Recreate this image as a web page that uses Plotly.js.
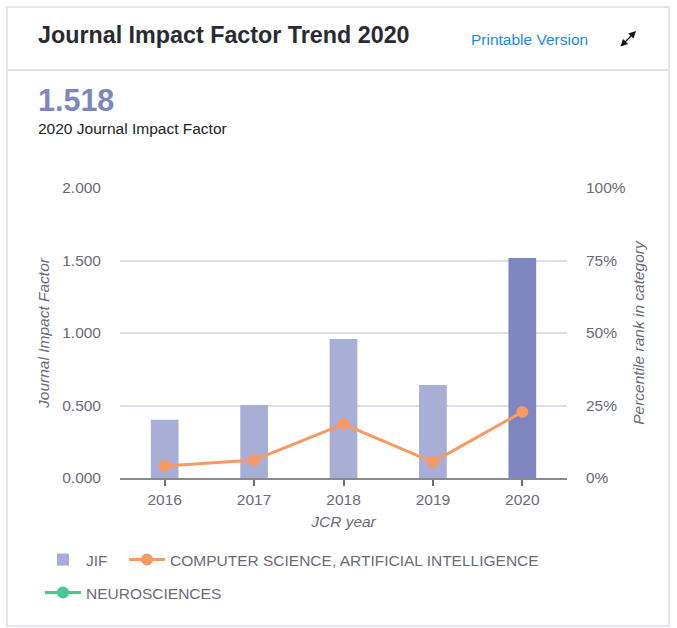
<!DOCTYPE html>
<html>
<head>
<meta charset="utf-8">
<script src="https://cdn.plot.ly/plotly-3.0.1.min.js"></script>
<style>
  html, body { margin: 0; padding: 0; background: #ffffff; }
  #chart { width: 677px; height: 628px; }
</style>
</head>
<body>
<div id="chart"></div>
<script>
// ---- data ----
const years = ['2016', '2017', '2018', '2019', '2020'];
const jif = [0.401, 0.503, 0.959, 0.641, 1.518];
const csaiPercentile = [4.1, 6.2, 18.6, 5.5, 22.8];
const neuroPercentile = [null, null, null, null, null];
const jifColors = ['#a9aed6', '#a9aed6', '#a9aed6', '#a9aed6', '#7f86bf'];
const jifTicks = [0, 0.5, 1, 1.5, 2];
const pctTicks = [0, 25, 50, 75, 100];
const pctLabels = ['0%', '25%', '50%', '75%', '100%'];

// ---- geometry helpers (plot area in pixels) ----
const L = 120, R = 567, T = 188, B = 478;
const xp = px => (px - L) / (R - L);
const yp = py => (B - py) / (B - T);

const font = 'Liberation Sans, Arial, Helvetica, sans-serif';
const grey = '#6b6b78';
const fs = 15.5;

const traces = [
  {
    type: 'bar', name: 'JIF', x: years, y: jif,
    marker: { color: jifColors },
    width: 0.31, yaxis: 'y', legend: 'legend'
  },
  {
    type: 'scatter', mode: 'lines+markers',
    name: 'COMPUTER SCIENCE, ARTIFICIAL INTELLIGENCE',
    x: years, y: csaiPercentile, yaxis: 'y2', legend: 'legend3',
    line: { color: '#f79a62', width: 3 },
    marker: { color: '#f79a62', size: 12 }
  },
  {
    type: 'scatter', mode: 'lines+markers', name: 'NEUROSCIENCES',
    x: years, y: neuroPercentile, yaxis: 'y2', legend: 'legend2',
    line: { color: '#45c990', width: 3 },
    marker: { color: '#45c990', size: 12 }
  }
];

const legendCommon = {
  orientation: 'h', xanchor: 'left', yanchor: 'middle',
  font: { family: font, size: fs, color: grey },
  traceorder: 'normal', itemwidth: 36,
  bgcolor: 'rgba(0,0,0,0)', borderwidth: 0
};

const layout = {
  width: 677, height: 628,
  margin: { l: L, r: 677 - R, t: T, b: 628 - B, pad: 0 },
  paper_bgcolor: '#ffffff', plot_bgcolor: 'rgba(0,0,0,0)',
  font: { family: font, size: fs, color: grey },
  showlegend: true,
  legend: Object.assign({}, legendCommon, { x: xp(40), y: yp(560) }),
  legend3: Object.assign({}, legendCommon, { x: xp(124), y: yp(560) }),
  legend2: Object.assign({}, legendCommon, { x: xp(40), y: yp(593) }),
  xaxis: {
    type: 'category', range: [-0.5, 4.5], automargin: false,
    showline: true, linecolor: '#8a8a8a', linewidth: 2,
    ticks: 'outside', ticklen: 6, tickwidth: 2, tickcolor: '#6e6e6e',
    tickfont: { family: font, size: fs, color: grey },
    showgrid: false, zeroline: false, fixedrange: true,
    title: { text: 'JCR year', font: { family: font, size: fs, color: grey, style: 'italic' }, standoff: 10 }
  },
  yaxis: {
    range: [0, 2], tickvals: jifTicks, automargin: false,
    tickformat: '.3f', showgrid: true, gridcolor: '#dcdcea', gridwidth: 2,
    zeroline: false, showline: false, ticks: '',
    ticklabelstandoff: 18,
    tickfont: { family: font, size: fs, color: grey },
    fixedrange: true,
    title: { text: 'Journal Impact Factor', font: { family: font, size: fs, color: grey, style: 'italic' }, standoff: 8 }
  },
  yaxis2: {
    range: [0, 100], tickvals: pctTicks, ticktext: pctLabels, automargin: false,
    overlaying: 'y', side: 'right', showgrid: false, zeroline: false, showline: false,
    ticks: '', ticklabelstandoff: 18,
    tickfont: { family: font, size: fs, color: grey },
    fixedrange: true,
    title: { text: 'Percentile rank in category', font: { family: font, size: fs, color: grey, style: 'italic' }, standoff: 8 }
  },
  shapes: [
    // card border
    { type: 'rect', xref: 'paper', yref: 'paper', layer: 'below',
      x0: xp(7), x1: xp(669), y0: yp(7), y1: yp(626),
      line: { color: '#e4e4ea', width: 2 }, fillcolor: 'rgba(0,0,0,0)' },
    // header separator
    { type: 'line', xref: 'paper', yref: 'paper', layer: 'below',
      x0: xp(8), x1: xp(668), y0: yp(70), y1: yp(70),
      line: { color: '#e2e2e8', width: 2 } }
  ],
  annotations: [
    { xref: 'paper', yref: 'paper', x: xp(36), y: yp(35), xanchor: 'left', yanchor: 'middle',
      text: '<b>Journal Impact Factor Trend 2020</b>', showarrow: false,
      font: { family: font, size: 23.3, color: '#2a2a33' } },
    { xref: 'paper', yref: 'paper', x: xp(469), y: yp(39), xanchor: 'left', yanchor: 'middle',
      text: 'Printable Version', showarrow: false,
      font: { family: font, size: fs, color: '#1e88f0' } },
    { xref: 'paper', yref: 'paper', x: xp(636), y: yp(31), axref: 'pixel', ayref: 'pixel',
      ax: -17, ay: 17, text: '', showarrow: true, arrowside: 'end+start',
      arrowhead: 2, arrowsize: 1.1, arrowwidth: 1.3, arrowcolor: '#111111' },
    { xref: 'paper', yref: 'paper', x: xp(36), y: yp(100), xanchor: 'left', yanchor: 'middle',
      text: '<b>1.518</b>', showarrow: false,
      font: { family: font, size: 30.5, color: '#7f86bf' } },
    { xref: 'paper', yref: 'paper', x: xp(36), y: yp(129), xanchor: 'left', yanchor: 'middle',
      text: '2020 Journal Impact Factor', showarrow: false,
      font: { family: font, size: fs, color: '#222222' } }
  ]
};

Plotly.newPlot('chart', traces, layout, { displayModeBar: false, staticPlot: true });
</script>
</body>
</html>
